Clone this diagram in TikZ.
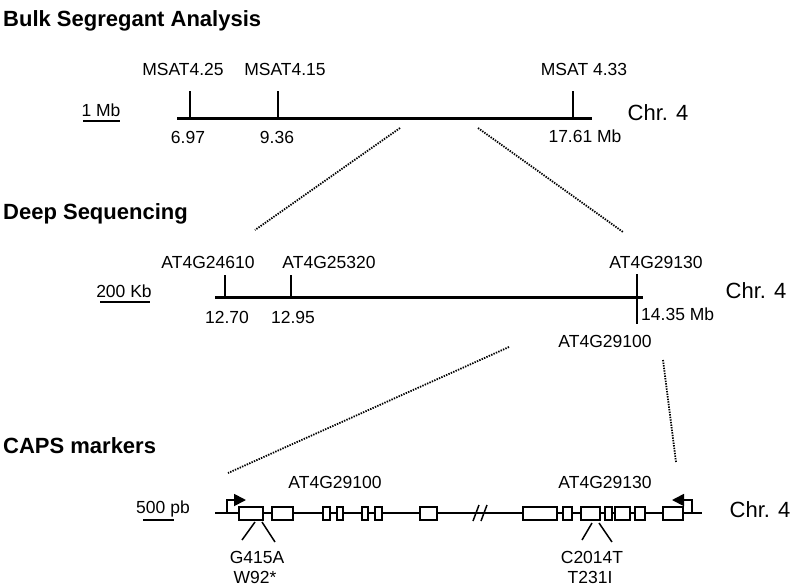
\documentclass[tikz,border=0pt]{standalone}
\usepackage{fontspec}
\setmainfont{Liberation Sans}
\usetikzlibrary{arrows.meta}

\begin{document}
\begin{tikzpicture}[x=1pt, y=-1pt, font=\fontsize{17.5}{20}\selectfont,
    title/.style = {anchor=base west, inner sep=0pt, font=\bfseries\fontsize{22}{26}\selectfont},
    lbl/.style = {anchor=base, inner sep=0pt},
    chrom/.style = {line width=3pt},
    tick/.style = {line width=2pt},
    zoomline/.style = {line width=1.8pt, dash pattern=on 1.4pt off 1.2pt},
    exon/.style = {draw, line width=1.8pt, fill=white},
    tss/.style = {line width=1.8pt, -{Triangle[length=12pt,width=12pt]}}]
    \useasboundingbox (0,0) rectangle (793,587);

    % Bulk segregant analysis
    \node[title] (bsa) at (3,26) {Bulk Segregant Analysis};
    \coordinate (c1l) at (177,118);
    \coordinate (c1r) at (592,118);
    \draw[chrom] (c1l) -- (c1r);
    \node[lbl] (m425) at (183,75) {MSAT4.25};
    \node[lbl] (m415) at (285,75) {MSAT4.15};
    \node[lbl] (m433) at (584,75) {MSAT 4.33};
    \draw[tick] (190,91) -- (190,118);
    \draw[tick] (278,91) -- (278,118);
    \draw[tick] (573,91) -- (573,118);
    \node[lbl] (p697) at (188,143) {6.97};
    \node[lbl] (p936) at (277,143) {9.36};
    \node[lbl] (p1761) at (585,142) {17.61 Mb};
    \node[lbl, font=\fontsize{22}{26}\selectfont] (chr1) at (658,120) {Chr. 4};
    \node[lbl] (sc1) at (101,116) {1 Mb};
    \draw[line width=1.5pt] (83,121) -- (120,121);

    \coordinate (z1a) at (400,128);
    \coordinate (z1b) at (255,230);
    \coordinate (z1c) at (478,128);
    \coordinate (z1d) at (623,232);
    \draw[zoomline] (z1a) -- (z1b);
    \draw[zoomline] (z1c) -- (z1d);

    % Deep sequencing
    \node[title] (ds) at (3,219) {Deep Sequencing};
    \coordinate (c2l) at (215,297);
    \coordinate (c2r) at (643,297);
    \draw[chrom] (c2l) -- (c2r);
    \node[lbl] (g24610) at (208,268) {AT4G24610};
    \node[lbl] (g25320) at (329,268) {AT4G25320};
    \node[lbl] (g29130a) at (656,268) {AT4G29130};
    \draw[tick] (225,275) -- (225,297);
    \draw[tick] (291,275) -- (291,297);
    \draw[tick] (637,274) -- (637,324);
    \node[lbl] (p1270) at (227,323) {12.70};
    \node[lbl] (p1295) at (293,323) {12.95};
    \node[anchor=base west, inner sep=0pt] (p1435) at (641,320) {14.35 Mb};
    \node[lbl] (g29100a) at (605,347) {AT4G29100};
    \node[lbl, font=\fontsize{22}{26}\selectfont] (chr2) at (756,298) {Chr. 4};
    \node[lbl] (sc2) at (124,297) {200 Kb};
    \draw[line width=1.5pt] (100,302) -- (150,302);

    \coordinate (z2a) at (509,347);
    \coordinate (z2b) at (228,473);
    \coordinate (z2c) at (663,360);
    \coordinate (z2d) at (676,462);
    \draw[zoomline] (z2a) -- (z2b);
    \draw[zoomline] (z2c) -- (z2d);

    % CAPS markers
    \node[title] (caps) at (3,453) {CAPS markers};
    \coordinate (gl) at (215,513);
    \coordinate (gr) at (702,513);
    \draw[line width=2pt] (gl) -- (gr);
    \draw[line width=1.5pt] (473,521) -- (479,505);
    \draw[line width=1.5pt] (481,521) -- (487,505);
    \foreach \a/\b in {239/263, 272/293, 323/330, 337/343, 362/368, 375/382, 420/437,
                       523/557, 563/572, 581/600, 605/612, 615/630, 635/645, 663/683}
        \draw[exon] (\a,507) rectangle (\b,520);
    \draw[tss] (227,513) |- (246,500);
    \draw[tss] (692,513) |- (672,500);
    \node[lbl] (g29100b) at (335,488) {AT4G29100};
    \node[lbl] (g29130b) at (605,488) {AT4G29130};
    \node[lbl, font=\fontsize{22}{26}\selectfont] (chr3) at (760,517) {Chr. 4};
    \node[lbl] (sc3) at (163,513) {500 pb};
    \draw[line width=1.5pt] (143,520) -- (174,520);

    \node[lbl] (g415a) at (257,563) {G415A};
    \node[lbl] (w92) at (255,583) {W92*};
    \node[lbl] (c2014t) at (592,563) {C2014T};
    \node[lbl] (t231i) at (590,583) {T231I};
    \draw[line width=1.5pt] (255,522) -- (242,540);
    \draw[line width=1.5pt] (262,522) -- (275,542);
    \draw[line width=1.5pt] (592,523) -- (582,540);
    \draw[line width=1.5pt] (599,523) -- (612,542);
\end{tikzpicture}
\end{document}
